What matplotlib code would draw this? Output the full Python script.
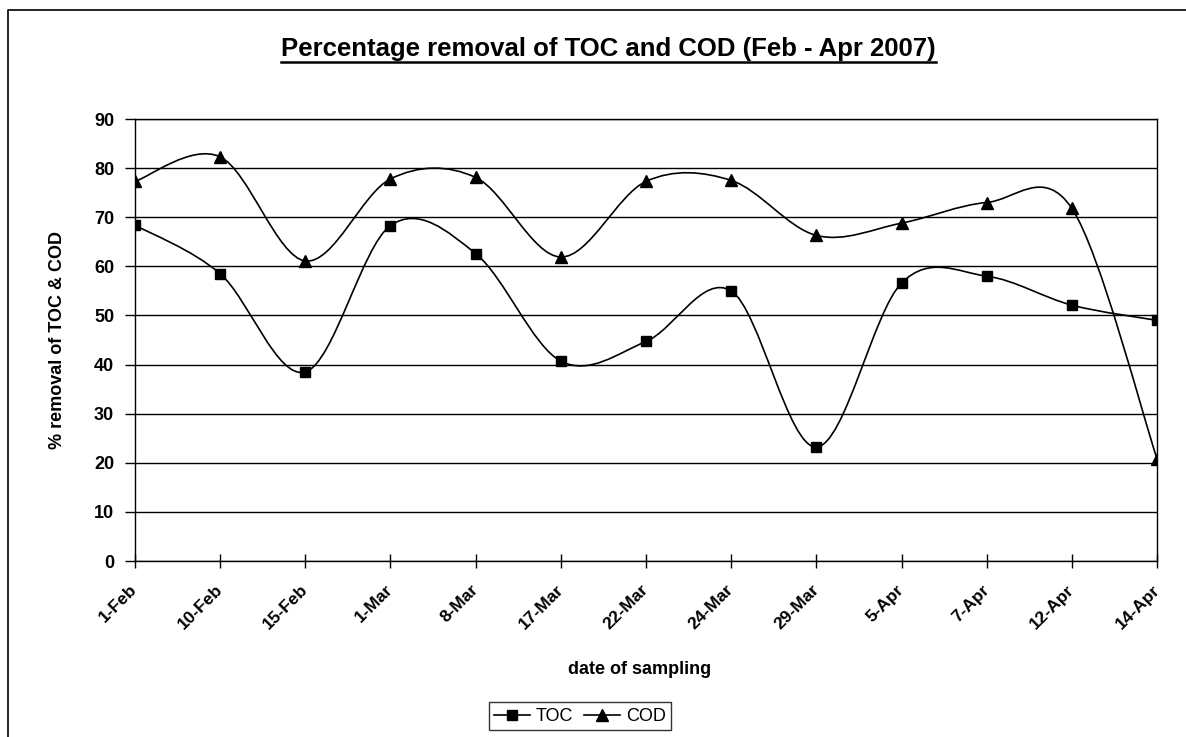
import matplotlib
matplotlib.use("Agg")
import matplotlib.pyplot as plt
import numpy as np
from matplotlib.path import Path
from matplotlib.patches import PathPatch
from matplotlib.lines import Line2D

plt.rcParams['font.family'] = ['Liberation Sans', 'DejaVu Sans']

dates = ['1-Feb', '10-Feb', '15-Feb', '1-Mar', '8-Mar', '17-Mar', '22-Mar',
         '24-Mar', '29-Mar', '5-Apr', '7-Apr', '12-Apr', '14-Apr']
toc = [68.4, 58.5, 38.5, 68.3, 62.6, 40.7, 44.7, 55.0, 23.2, 56.6, 58.0, 52.1, 49.0]
cod = [77.3, 82.3, 61.1, 77.8, 78.1, 61.9, 77.3, 77.5, 66.3, 68.8, 73.0, 71.8, 20.8]


def smooth_path(x, y):
    # Excel-style smoothed line: Catmull-Rom as cubic Bezier segments
    p = np.column_stack([x, y]).astype(float)
    n = len(p)
    verts = [p[0]]
    codes = [Path.MOVETO]
    for i in range(n - 1):
        p0 = p[i - 1] if i > 0 else p[i]
        p1, p2 = p[i], p[i + 1]
        p3 = p[i + 2] if i + 2 < n else p[i + 1]
        c1 = p1 + (p2 - p0) / 6
        c2 = p2 - (p3 - p1) / 6
        verts += [c1, c2, p2]
        codes += [Path.CURVE4] * 3
    return Path(verts, codes)


def main():
    fig = plt.figure(figsize=(11.86, 7.37), dpi=100)
    ax = fig.add_axes([0.1138, 0.2388, 0.8618, 0.5997])
    xs = np.arange(len(dates))

    for vals, mk, ms in [(toc, 's', 7), (cod, '^', 8)]:
        ax.add_patch(PathPatch(smooth_path(xs, vals), fill=False,
                               edgecolor='black', lw=1.2, zorder=3))
        ax.plot(xs, vals, linestyle='none', marker=mk, ms=ms, color='black',
                zorder=4)

    ax.set_xlim(0, len(dates) - 1)
    ax.set_ylim(0, 90)
    ax.set_yticks(range(0, 91, 10))
    ax.set_xticks(xs)
    ax.set_xticklabels(dates, rotation=45, ha='right', va='center',
                       rotation_mode='anchor', fontsize=12.5, fontweight='bold')
    for lab in ax.get_yticklabels():
        lab.set_fontsize(13)
        lab.set_fontweight('bold')
    ax.tick_params(axis='y', direction='out', length=7, width=1, pad=8)
    ax.tick_params(axis='x', direction='inout', length=10, width=1, pad=14)
    ax.grid(True, axis='y', color='black', lw=1)
    for s in ax.spines.values():
        s.set_color('black')
        s.set_linewidth(1)

    ax.set_ylabel('% removal of TOC & COD', fontsize=13, fontweight='bold',
                  labelpad=20)
    fig.text(0.539, 0.091, 'date of sampling', ha='center', va='center',
             fontsize=13, fontweight='bold')

    handles = [Line2D([], [], color='black', lw=1.2, marker='s', ms=7),
               Line2D([], [], color='black', lw=1.2, marker='^', ms=8)]
    leg = fig.legend(handles, ['TOC', 'COD'], ncol=2, loc='center',
                     bbox_to_anchor=(0.489, 0.028), fontsize=13,
                     frameon=True, fancybox=False, edgecolor='black',
                     handlelength=2.0, handletextpad=0.3, columnspacing=0.6,
                     borderpad=0.3)
    leg.get_frame().set_linewidth(1)

    title = fig.text(0.513, 0.933, 'Percentage removal of TOC and COD (Feb - Apr 2007)',
                     ha='center', va='center', fontsize=18.5, fontweight='bold')
    fig.canvas.draw()
    bb = title.get_window_extent()
    W, H = fig.bbox.width, fig.bbox.height
    uy = (bb.y0 - 1) / H
    fig.add_artist(Line2D([bb.x0 / W, bb.x1 / W], [uy, uy], color='black',
                          lw=1.8, transform=fig.transFigure))

    # outer chart frame (only left and top edges visible)
    fig.add_artist(Line2D([8 / W, 8 / W, 1.0], [0, 1 - 10 / H, 1 - 10 / H],
                          color='black', lw=1.2, transform=fig.transFigure))

    fig.savefig('out.png', dpi=100)


if __name__ == '__main__':
    main()
